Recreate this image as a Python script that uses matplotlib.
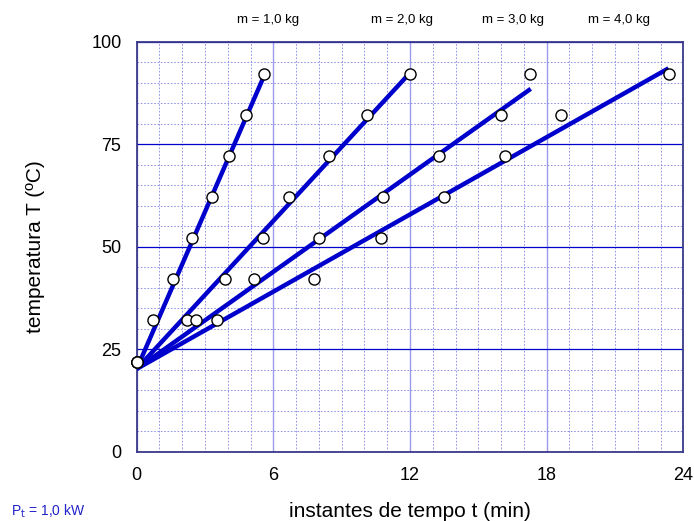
import numpy as np
import matplotlib.pyplot as plt
from matplotlib.ticker import MultipleLocator

plt.rcParams['font.family'] = ['Liberation Sans', 'DejaVu Sans']

# temperature readings (same for every mass)
T_data = [22, 32, 42, 52, 62, 72, 82, 92]

# time instants (min) for each mass
t_m1 = [0, 0.73, 1.61, 2.41, 3.29, 4.03, 4.78, 5.58]
t_m2 = [0, 2.22, 3.87, 5.55, 6.69, 8.45, 10.09, 12.0]
t_m3 = [0, 2.6, 5.14, 8.0, 10.83, 13.29, 16.0, 17.25]
t_m4 = [0, 3.54, 7.79, 10.72, 13.49, 16.15, 18.64, 23.35]

# fitted straight lines (start / end points)
fit_t = [[0, 5.58], [0, 11.85], [0, 17.3], [0, 23.35]]
fit_T = [[20.2, 91.5], [20.2, 91.5], [20.2, 88.5], [20.2, 93.5]]

mass_labels = ['m = 1,0 kg', 'm = 2,0 kg', 'm = 3,0 kg', 'm = 4,0 kg']
label_x = [268, 402, 513, 619]

fig = plt.figure(figsize=(6.94, 5.21), dpi=100)
ax = fig.add_axes([0.197, 0.133, 0.7876, 0.787])

ax.set_xlim(0, 24)
ax.set_ylim(0, 100)
ax.xaxis.set_major_locator(MultipleLocator(6))
ax.yaxis.set_major_locator(MultipleLocator(25))
ax.xaxis.set_minor_locator(MultipleLocator(1))
ax.yaxis.set_minor_locator(MultipleLocator(5))

# grid
ax.grid(which='minor', axis='both', color='#8484e4', lw=0.6, ls=(0, (2, 2)))
ax.grid(which='major', axis='x', color='#9a9aee', lw=1.0, ls='-')
ax.grid(which='major', axis='y', color='#0000cc', lw=0.9, ls='-')
ax.set_axisbelow(True)

for s in ax.spines.values():
    s.set_color('#3a3a8a')
    s.set_linewidth(1.3)

ax.tick_params(which='both', length=0)
ax.tick_params(axis='x', labelsize=13, pad=11)
ax.tick_params(axis='y', labelsize=13, pad=11)

for ft, fT in zip(fit_t, fit_T):
    ax.plot(ft, fT, color='#0000cc', lw=3.2, solid_capstyle='butt', zorder=3)

for tt in [t_m1, t_m2, t_m3, t_m4]:
    ax.plot(tt, T_data, 'o', ms=8, mfc='white', mec='black', mew=1.0,
            zorder=4, clip_on=False)

ax.set_xlabel('instantes de tempo t (min)', fontsize=15, labelpad=13)
ax.set_ylabel('temperatura T (ºC)', fontsize=15, labelpad=33)

for lab, lx in zip(mass_labels, label_x):
    fig.text(lx / 694, 1 - 20 / 521, lab, fontsize=9.5, ha='center', va='center')

fig.text(11 / 694, 1 - 511 / 521, 'P$_{\\mathrm{t}}$ = 1,0 kW', fontsize=10,
         color='#2222cc', ha='left', va='center')

fig.savefig('out.png', dpi=100)
